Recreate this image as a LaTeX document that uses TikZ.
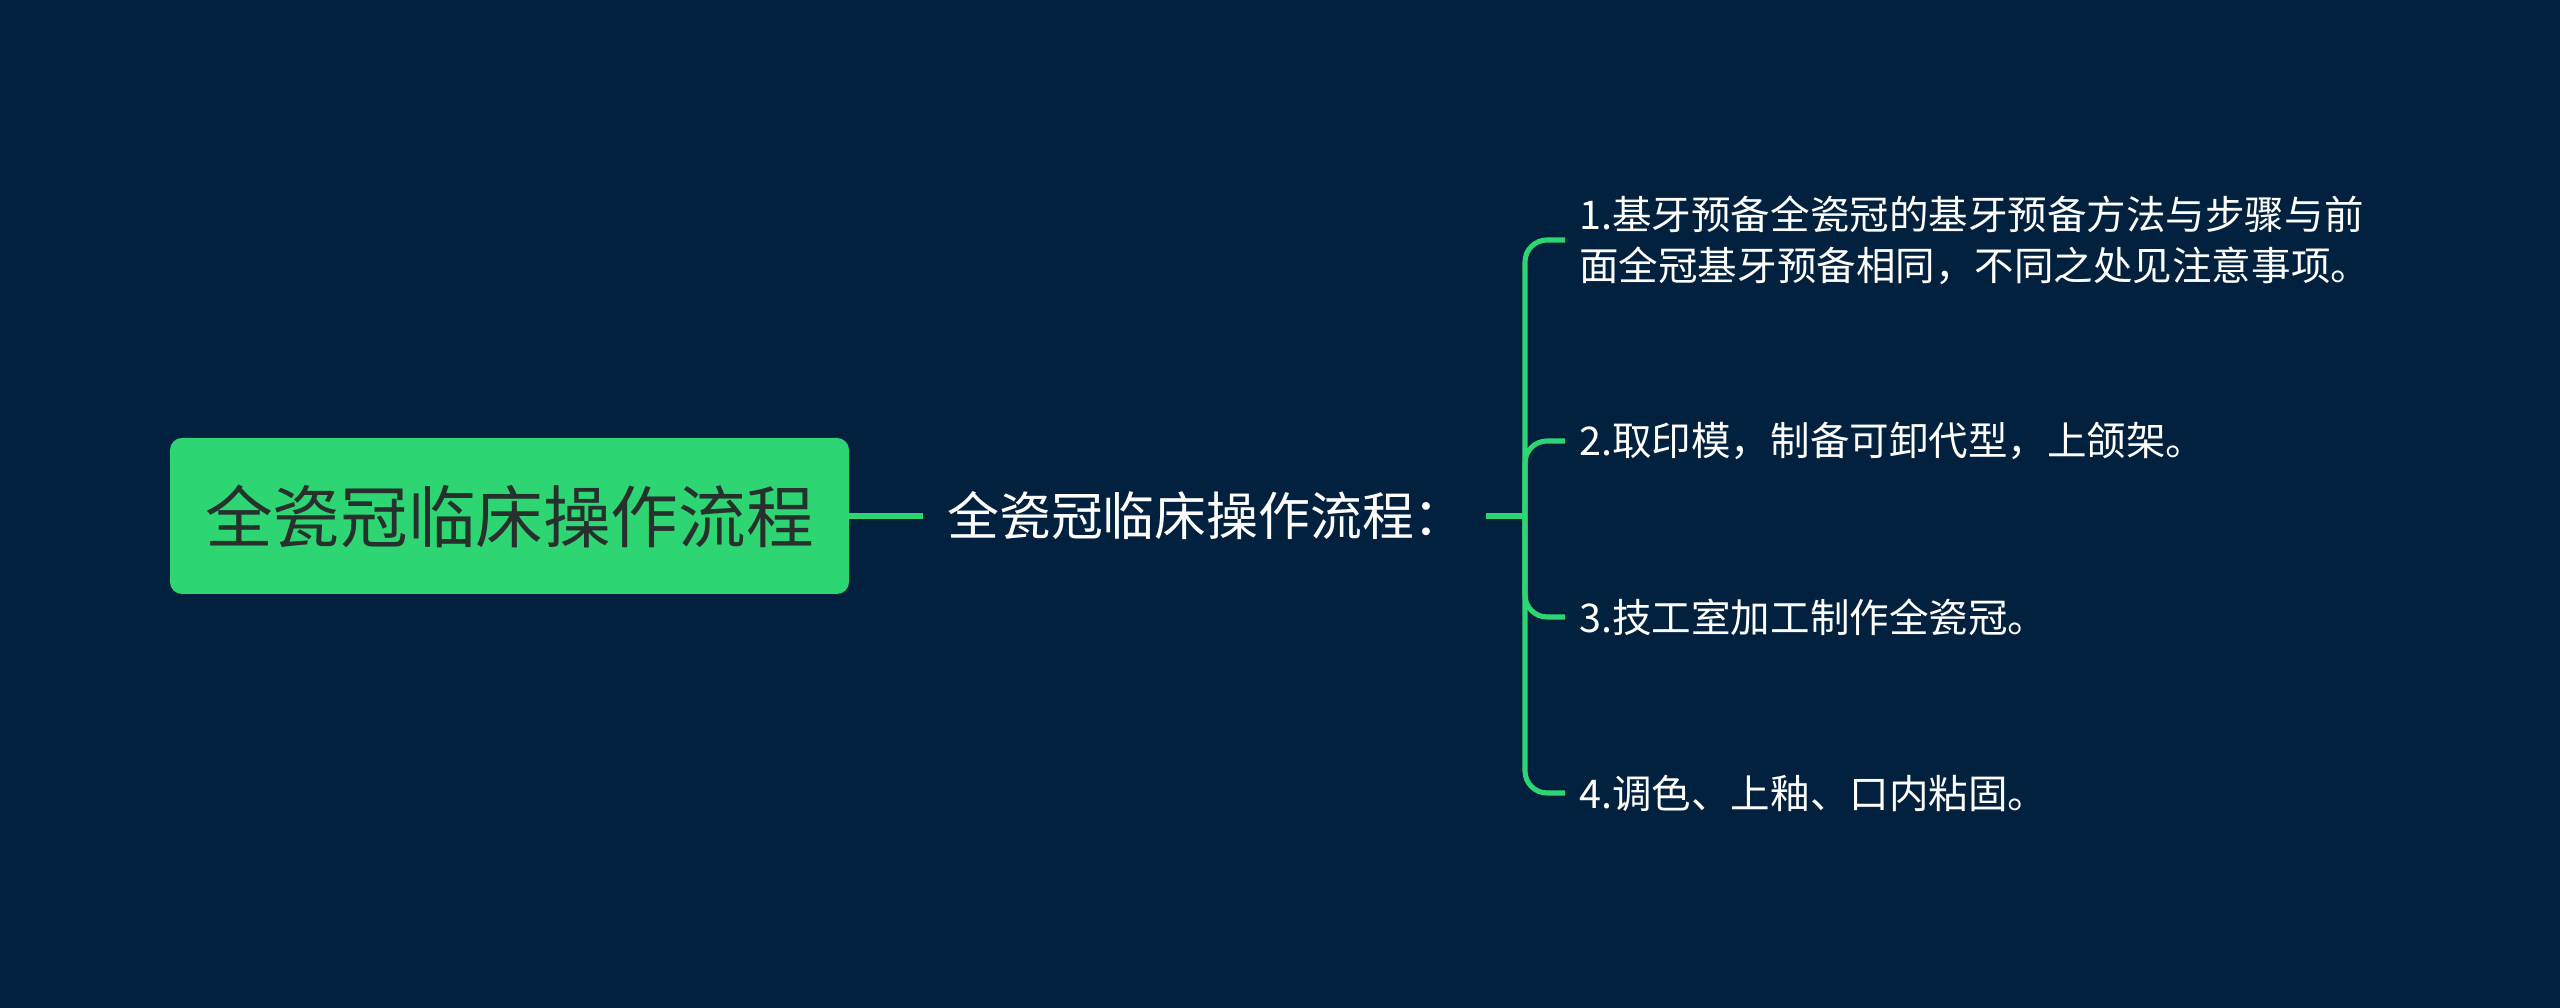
\documentclass[tikz,border=0pt]{standalone}
\usepackage{fontspec}
\setmainfont{Noto Sans CJK SC}
\definecolor{navy}{RGB}{2,33,63}
\definecolor{mint}{RGB}{46,214,115}
\definecolor{ink}{RGB}{38,48,44}
\usetikzlibrary{positioning,calc}

\begin{document}
\begin{tikzpicture}[
          rootbox/.style={fill=mint,rounded corners=0.24cm,
                          minimum width=13.58cm,minimum height=3.12cm,
                          text=ink,font=\fontsize{38.5}{44}\selectfont},
          hubtxt/.style={text=white,inner sep=0pt,anchor=west,
                         font=\fontsize{29.5}{35}\selectfont},
          leaf/.style={text=white,anchor=west,align=left,
                       inner xsep=0.28cm,inner ysep=0pt,
                       font=\fontsize{22.5}{29}\selectfont},
          link/.style={draw=mint,line width=2.9pt}
        ]
        \fill[navy] (0,0) rectangle (51.2,20.16);
        \node[rootbox] (root) at (10.19,9.84) {全瓷冠临床操作流程};
        \node[hubtxt]  (mid)  at (18.94,9.84) {全瓷冠临床操作流程：};
        \coordinate (hub) at (30.5,9.84);
        \coordinate (hubin) at (29.72,9.84);
        \node[leaf] (s1) at (31.3,15.36) {1.基牙预备全瓷冠的基牙预备方法与步骤与前\\面全冠基牙预备相同，不同之处见注意事项。};
        \node[leaf] (s2) at (31.3,11.34) {2.取印模，制备可卸代型，上颌架。};
        \node[leaf] (s3) at (31.3,7.82)  {3.技工室加工制作全瓷冠。};
        \node[leaf] (s4) at (31.3,4.30)  {4.调色、上釉、口内粘固。};
        \draw[link] (root.east) -- ([xshift=-0.48cm]mid.west);
        \draw[link] (hubin) -- (hub);
        \foreach \s in {s1,s2,s3,s4}
          \draw[link,rounded corners=0.44cm] (hub) |- (\s.west);
      \end{tikzpicture}
\end{document}
